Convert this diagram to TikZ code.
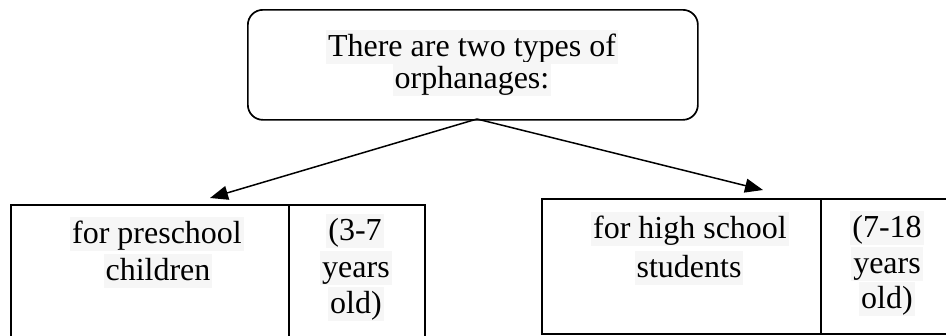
\documentclass[tikz,border=0pt]{standalone}
\usepackage{fontspec}
\setmainfont{Liberation Serif}
\usetikzlibrary{arrows.meta}
\definecolor{hl}{RGB}{246,246,246}
\begin{document}
\begin{tikzpicture}[x=1bp,y=-1bp,
  boxx/.style={draw=black, line width=1.7bp, inner sep=0pt, anchor=north west},
  txt/.style={fill=hl, inner xsep=2bp, inner ysep=0pt, anchor=base, text height=26bp, text depth=8bp,
    font=\fontsize{32bp}{36bp}\selectfont},
  conn/.style={line width=1.5bp, -{Triangle[length=18bp,width=14bp]}}]
\clip (0,0) rectangle (946,335);
\fill[white] (0,0) rectangle (946,335);
% boxes
\node[boxx, rounded corners=15bp, minimum width=450bp, minimum height=110bp] (top) at (247,9) {};
\node[boxx, minimum width=278bp, minimum height=145bp] (lmain) at (10,204) {};
\node[boxx, minimum width=136bp, minimum height=145bp] (lage) at (288,204) {};
\node[boxx, minimum width=279bp, minimum height=135bp] (rmain) at (541,198) {};
\node[boxx, minimum width=134bp, minimum height=135bp] (rage) at (820,198) {};
% texts
\node[txt] (t1) at (472,56) {There are two types of};
\node[txt] (t2) at (472,88) {orphanages:};
\node[txt] (l1) at (157,243) {for preschool};
\node[txt] (l2) at (158,280) {children};
\node[txt] (a1) at (355,240) {(3-7};
\node[txt] (a2) at (356,277) {years};
\node[txt] (a3) at (356,313) {old)};
\node[txt] (r1) at (690,238) {for high school};
\node[txt] (r2) at (689,277) {students};
\node[txt] (b1) at (887,237) {(7-18};
\node[txt] (b2) at (887,273) {years};
\node[txt] (b3) at (887,308) {old)};
% connectors
\coordinate (src) at (477,119);
\coordinate (ltip) at (210,198);
\coordinate (rtip) at (763,190);
\draw[conn] (src) -- (ltip);
\draw[conn] (src) -- (rtip);
\end{tikzpicture}
\end{document}
